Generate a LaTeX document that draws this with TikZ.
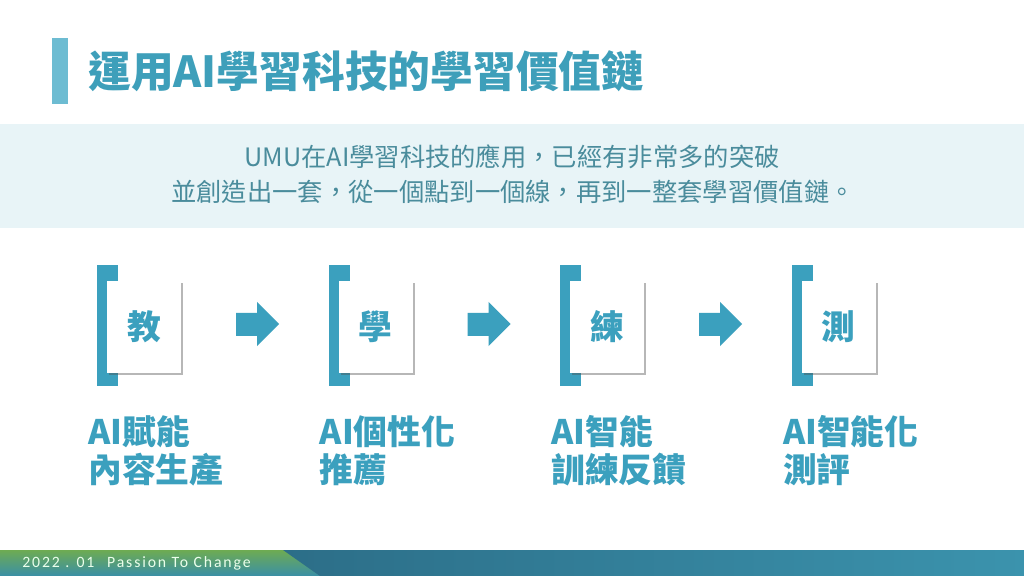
\documentclass[tikz,border=0pt]{standalone}
\usepackage{fontspec}
\newfontfamily\cjk{Noto Sans CJK TC}
\newfontfamily\foot[LetterSpace=12]{Carlito}
\usetikzlibrary{shadows}
\definecolor{accent}{HTML}{3BA0BE}
\definecolor{titlecol}{HTML}{3E9FBA}
\definecolor{titlebar}{HTML}{6DBCD2}
\definecolor{bodycol}{HTML}{4A8C9C}
\definecolor{bandcol}{HTML}{E8F4F7}
\definecolor{footgreen}{HTML}{6EAB52}
\definecolor{footteal}{HTML}{3A8FA6}
\definecolor{footdark}{HTML}{2C6E88}
\definecolor{footright}{HTML}{3B93AD}
\tikzset{
  card/.style={fill=white, minimum width=1.85cm, minimum height=2.3cm, inner sep=0pt,
    drop shadow={shadow xshift=1.6pt, shadow yshift=-1.6pt, opacity=0.4, fill=black!70},
    font=\cjk\fontsize{24pt}{26pt}\selectfont\bfseries, text=accent},
  label/.style={anchor=west, inner sep=0pt, text=accent, font=\cjk\fontsize{24pt}{28pt}\selectfont\bfseries},
  bodytext/.style={inner sep=0pt, text=bodycol, font=\cjk\fontsize{18pt}{22pt}\selectfont},
}
\begin{document}
\begin{tikzpicture}[x=0.025cm,y=-0.025cm]
\useasboundingbox (0,0) rectangle (1024,576);
\fill[white] (0,0) rectangle (1024,576);
% title
\fill[titlebar] (52,38) rectangle (68,104);
\node[anchor=west, inner sep=0pt, text=titlecol, font=\cjk\fontsize{30.4pt}{34pt}\selectfont\bfseries] (title) at (88,71) {運用AI學習科技的學習價值鏈};
% band
\fill[bandcol] (0,124) rectangle (1024,228);
\node[bodytext] (l1) at (512,157) {UMU在AI學習科技的應用，已經有非常多的突破};
\node[bodytext] (l2) at (513,192) {並創造出一套，從一個點到一個線，再到一整套學習價值鏈。};
% cards
\foreach \i/\ch/\la/\lb in {0/教/AI賦能/內容生產, 1/學/AI個性化/推薦, 2/練/AI智能/訓練反饋, 3/測/AI智能化/測評}{
  \pgfmathsetmacro\dx{231.6*\i}
  \fill[accent] (97+\dx,265) rectangle (118+\dx,386);
  \node[card] (c\i) at (144+\dx,327) {\ch};
  \node[label] (la\i) at (88+\dx,432) {\la};
  \node[label] (lb\i) at (88+\dx,470) {\lb};
}
\foreach \i in {0,1,2}{
  \pgfmathsetmacro\dx{231.6*\i}
  \fill[accent] (236+\dx,313) -- (257+\dx,313) -- (257+\dx,302) -- (279+\dx,324) -- (257+\dx,346) -- (257+\dx,336) -- (236+\dx,336) -- cycle;
}
% footer
\shade[top color=footgreen, bottom color=footteal] (0,550) rectangle (1024,576);
\shade[left color=footdark, right color=footright] (283,550) -- (1024,550) -- (1024,576) -- (320,576) -- cycle;
\node[anchor=west, inner sep=0pt, text=white!92!green, font=\foot\fontsize{11.2pt}{13pt}\selectfont] (ft) at (22,563) {2022 . 01\hspace{9pt}Passion To Change};
\end{tikzpicture}
\end{document}
